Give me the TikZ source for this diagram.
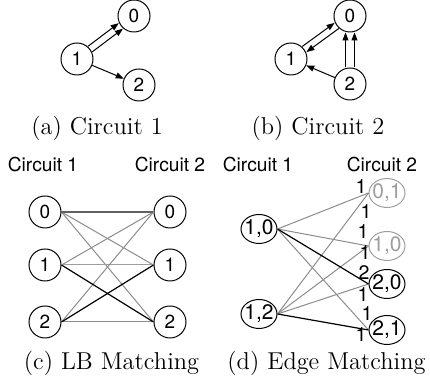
\documentclass[tikz,border=0pt]{standalone}
\usepackage{fontspec}
\newfontfamily\hv{TeX Gyre Heros}
\usetikzlibrary{arrows.meta,shapes.geometric}
\definecolor{lgray}{gray}{0.55}
\definecolor{mgray}{gray}{0.62}
\definecolor{dgray}{gray}{0.38}
\begin{document}
\begin{tikzpicture}[x=0.5pt,y=-0.5pt,
  cnode/.style={circle,draw,line width=0.5pt,minimum size=16pt,inner sep=0pt,font=\hv\fontsize{9.5}{9.5}\selectfont},
  enode/.style={ellipse,draw,line width=0.5pt,minimum width=18pt,minimum height=14.5pt,inner sep=-2.5pt,font=\hv\fontsize{10.5}{10.5}\selectfont},
  gnode/.style={enode,draw=mgray,text=mgray},
  arr/.style={-{Triangle[length=4pt,width=3pt]},line width=0.5pt},
  captxt/.style={font=\fontsize{12.2}{14}\selectfont,inner sep=0pt},
  hdr/.style={font=\hv\fontsize{9.6}{11}\selectfont,inner sep=0pt},
  wl/.style={font=\hv\fontsize{9.8}{10}\selectfont,inner sep=0pt},
  gl/.style={draw=lgray,line width=0.5pt},
  bl/.style={draw=black,line width=0.6pt}]
\useasboundingbox (0,0) rectangle (430,383);
% panel a
\node[cnode] (a0) at (134,16) {0};
\node[cnode] (a1) at (77,59) {1};
\node[cnode] (a2) at (139,85) {2};
\draw[arr,transform canvas={shift={(-1.05pt,1.4pt)}}] (a1) -- (a0);
\draw[arr,transform canvas={shift={(1.05pt,-1.4pt)}}] (a1) -- (a0);
\draw[arr] (a1) -- (a2);
\node[captxt] (capa) at (97,128) {(a) Circuit 1};
% panel b
\node[cnode] (b0) at (350,16) {0};
\node[cnode] (b1) at (291,59) {1};
\node[cnode] (b2) at (350,84) {2};
\draw[arr,transform canvas={shift={(-1.05pt,1.4pt)}}] (b1) -- (b0);
\draw[arr,transform canvas={shift={(1.05pt,-1.4pt)}}] (b0) -- (b1);
\draw[arr,transform canvas={shift={(-2.25pt,0pt)}}] (b2) -- (b0);
\draw[arr,transform canvas={shift={(2.25pt,0pt)}}] (b2) -- (b0);
\draw[arr] (b2) -- (b1);
\node[captxt] (capb) at (318,128) {(b) Circuit 2};
% panel c
\node[hdr] (hc1) at (43,165) {Circuit 1};
\node[hdr] (hc2) at (170,165) {Circuit 2};
\node[cnode] (l0) at (45,212) {0};
\node[cnode] (l1) at (45,265) {1};
\node[cnode] (l2) at (45,322) {2};
\node[cnode] (r0) at (170,212) {0};
\node[cnode] (r1) at (170,265) {1};
\node[cnode] (r2) at (170,322) {2};
\draw[gl] (l0.east) -- (r1.west);
\draw[gl] (l0.east) -- (r2.west);
\draw[gl] (l1.east) -- (r0.west);
\draw[gl,draw=mgray] (l1.east) -- (r1.west);
\draw[gl] (l2.east) -- (r0.west);
\draw[gl] (l2.east) -- (r2.west);
\draw[draw=dgray,line width=0.8pt] (l0.east) -- (r0.west);
\draw[bl] (l1.east) -- (r2.west);
\draw[bl] (l2.east) -- (r1.west);
\node[captxt] (capc) at (111.5,363) {(c) LB Matching};
% panel d
\node[hdr] (hd1) at (258,165) {Circuit 1};
\node[hdr] (hd2) at (382,165) {Circuit 2};
\node[enode] (d10) at (259,229) {1,0};
\node[enode] (d12) at (259,314) {1,2};
\node[gnode] (e01) at (387,193) {0,1};
\node[gnode] (e10) at (387,246) {1,0};
\node[enode] (e20) at (387,284) {2,0};
\node[enode] (e21) at (387,330) {2,1};
\draw[gl] (d10.east) -- (e01.west);
\draw[gl] (d10.east) -- (e10.west);
\draw[gl] (d10.east) -- (e21.west);
\draw[gl] (d12.east) -- (e01.west);
\draw[gl] (d12.east) -- (e10.west);
\draw[gl] (d12.east) -- (e20.west);
\draw[bl] (d10.east) -- (e20.west);
\draw[bl] (d12.east) -- (e21.west);
\node[wl] (w1) at (361,187) {1};
\node[wl] (w2) at (366,212) {1};
\node[wl] (w3) at (363,232) {1};
\node[wl] (w4) at (365,253) {1};
\node[wl] (w5) at (364,273) {2};
\node[wl] (w6) at (363,295) {1};
\node[wl] (w7) at (367,314) {1};
\node[wl] (w8) at (361,335) {1};
\node[captxt] (capd) at (326.5,363) {(d) Edge Matching};
\end{tikzpicture}
\end{document}
